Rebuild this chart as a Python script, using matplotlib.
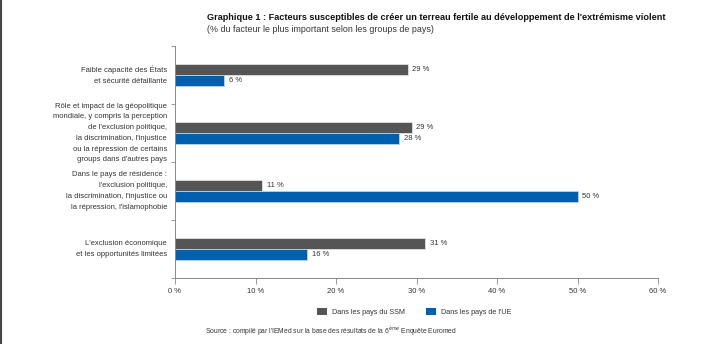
import matplotlib
matplotlib.use("Agg")
import matplotlib.pyplot as plt
from matplotlib.patches import Patch
from matplotlib.lines import Line2D
import numpy as np

plt.rcParams['font.family'] = ['Liberation Sans', 'DejaVu Sans']

categories = [
    "Faible capacité des États\net sécurité défaillante",
    "Rôle et impact de la géopolitique\nmondiale, y compris la perception\nde l'exclusion politique,\nla discrimination, l'injustice\nou la répression de certains\ngroups dans d'autres pays",
    "Dans le pays de résidence :\nl'exclusion politique,\nla discrimination, l'injustice ou\nla répression, l'islamophobie",
    "L'exclusion économique\net les opportunités limitées",
]
ssm_values = [28.9, 29.4, 10.8, 31.1]
ue_values = [6.1, 27.8, 50.0, 16.4]
ssm_labels = ["29 %", "29 %", "11 %", "31 %"]
ue_labels = ["6 %", "28 %", "50 %", "16 %"]
xticks = [0, 10, 20, 30, 40, 50, 60]
xtick_labels = ["0 %", "10 %", "20 %", "30 %", "40 %", "50 %", "60 %"]
series_names = ["Dans les pays du SSM", "Dans les pays de l'UE"]

c_ssm = "#555555"
c_ue = "#0060B0"
txt = "#333333"

fig = plt.figure(figsize=(7.18, 3.44), dpi=100)
ax = fig.add_axes([175/718, 1-278/344, (658-175)/718, (278-46)/344])

n = len(categories)
y = np.arange(n)
h = 0.19
ax.barh(y - h/2, ssm_values, height=h, color=c_ssm, edgecolor="#e0e0e0", linewidth=0.6)
ax.barh(y + h/2, ue_values, height=h, color=c_ue, edgecolor="#b8d4ee", linewidth=0.6)
for i in range(n):
    ax.text(ssm_values[i] + 0.6, y[i] - h/2, ssm_labels[i], va="center", ha="left", fontsize=5.5, color=txt)
    ax.text(ue_values[i] + 0.6, y[i] + h/2, ue_labels[i], va="center", ha="left", fontsize=5.5, color=txt)

ax.set_ylim(n - 0.5, -0.5)
ax.set_xlim(0, 60)
ax.set_xticks(xticks)
ax.set_xticklabels(xtick_labels, fontsize=5.5, color=txt)
ax.set_yticks(np.arange(n + 1) - 0.5)
ax.set_yticklabels([])
ax.tick_params(axis='y', length=3, width=0.6, color="#888888", direction='out')
ax.tick_params(axis='x', length=4, width=0.6, color="#888888", direction='out', pad=3)
for s in ["top", "right"]:
    ax.spines[s].set_visible(False)
for s in ["left", "bottom"]:
    ax.spines[s].set_color("#888888")
    ax.spines[s].set_linewidth(0.7)

for i, c in enumerate(categories):
    ax.text(-1.0, y[i], c, ha="right", va="center", fontsize=5.5, color=txt,
            linespacing=1.75, transform=ax.transData)

fig.text(207/718, 1-17/344, "Graphique 1 : Facteurs susceptibles de créer un terreau fertile au développement de l'extrémisme violent",
         fontsize=6.6, fontweight="bold", color="#111111", ha="left", va="center")
fig.text(207/718, 1-30/344, "(% du facteur le plus important selon les groups de pays)",
         fontsize=6.4, color=txt, ha="left", va="center")

handles = [Patch(facecolor=c_ssm, edgecolor="none"), Patch(facecolor=c_ue, edgecolor="none")]
fig.legend(handles, series_names, loc="center", bbox_to_anchor=(414/718, 1-312/344), ncol=2,
           frameon=False, fontsize=5.2, handlelength=1.35, handleheight=1.0, columnspacing=2.9,
           handletextpad=0.7, labelcolor=txt)

fig.text(205/718, 1-331/344, "Source : compilé par l'IEMed sur la base des résultats de la 6$^{ème}$ Enquête Euromed",
         fontsize=4.9, color=txt, ha="left", va="center")

fig.add_artist(Line2D([0.001, 0.001], [0, 1], transform=fig.transFigure, color="#444444", linewidth=1.5))

fig.savefig("out.png", dpi=100)
